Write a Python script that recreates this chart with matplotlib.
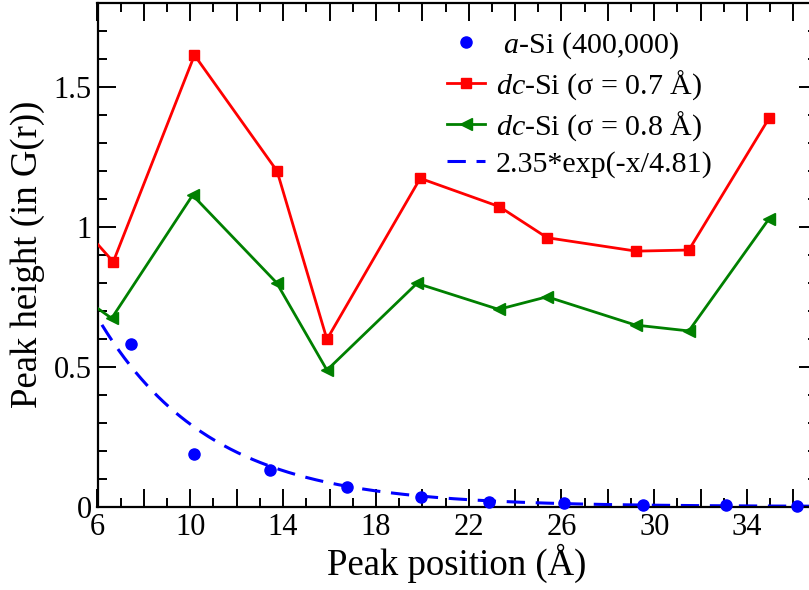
import numpy as np
import matplotlib
matplotlib.use("Agg")
import matplotlib.pyplot as plt
from matplotlib.ticker import MultipleLocator, FuncFormatter

plt.rcParams['font.family'] = ['Liberation Serif', 'DejaVu Serif']
plt.rcParams['mathtext.fontset'] = 'custom'
plt.rcParams['mathtext.rm'] = 'Liberation Serif'
plt.rcParams['mathtext.it'] = 'Liberation Serif:italic'

# a-Si peak heights
asi_x = [7.44, 10.18, 13.44, 16.75, 19.94, 22.86, 26.10, 29.52, 33.07, 36.13]
asi_y = [0.580, 0.186, 0.130, 0.071, 0.033, 0.017, 0.011, 0.005, 0.005, 0.002]

# dc-Si sigma = 0.7
dc07_x = [3.60, 6.68, 10.18, 13.74, 15.89, 19.91, 23.32, 25.38, 29.22, 31.49, 34.94]
dc07_y = [1.160, 0.874, 1.612, 1.198, 0.597, 1.172, 1.071, 0.960, 0.912, 0.916, 1.386]

# dc-Si sigma = 0.8
dc08_x = [3.60, 6.61, 10.10, 13.72, 15.89, 19.77, 23.29, 25.38, 29.19, 31.49, 34.93]
dc08_y = [0.850, 0.672, 1.112, 0.799, 0.487, 0.797, 0.704, 0.749, 0.648, 0.627, 1.026]

# fit parameters
fit_a = 2.35
fit_l = 4.81

labels = [r' $\mathit{a}$-Si (400,000)',
          r'$\mathit{dc}$-Si ($\mathrm{\sigma}$ = 0.7 Å)',
          r'$\mathit{dc}$-Si ($\mathrm{\sigma}$ = 0.8 Å)',
          '2.35*exp(-x/4.81)']

fig = plt.figure(figsize=(8.09, 5.90), dpi=100)
ax = fig.add_axes([97.5/809, 1-506.5/590, (816.7-97.5)/809, 504/590])

fx = np.linspace(5, 37, 400)
fy = fit_a*np.exp(-fx/fit_l)

ax.plot(asi_x, asi_y, 'o', color='#0000ff', ms=8, ls='none', label=labels[0], clip_on=False, zorder=4)
ax.plot(dc07_x, dc07_y, '-s', color='#ff0000', lw=2.0, ms=7, label=labels[1], zorder=3)
ax.plot(dc08_x, dc08_y, '-<', color='#008000', lw=2.0, ms=8, label=labels[2], zorder=3)
ax.plot(fx, fy, '--', color='#0000ff', lw=2.2, dashes=(6, 3.5), label=labels[3], zorder=2)

ax.set_xlim(6, 37)
ax.set_ylim(0, 1.8)

ax.xaxis.set_major_locator(MultipleLocator(2))
ax.xaxis.set_minor_locator(MultipleLocator(1))
ax.yaxis.set_major_locator(MultipleLocator(0.5))
ax.yaxis.set_minor_locator(MultipleLocator(0.1))

def xfmt(v, pos):
    iv = int(round(v))
    if (iv - 6) % 4 == 0:
        return str(iv)
    return ''

def yfmt(v, pos):
    return ('%g' % round(v, 2))

ax.xaxis.set_major_formatter(FuncFormatter(xfmt))
ax.yaxis.set_major_formatter(FuncFormatter(yfmt))

ax.tick_params(which='both', direction='in', top=True, right=True, width=1.4, labelsize=22, color='black')
ax.tick_params(which='major', length=13)
ax.tick_params(which='minor', length=6.5)
ax.tick_params(axis='x', pad=5)
ax.tick_params(axis='y', pad=4)

for s in ax.spines.values():
    s.set_linewidth(1.6)

ax.set_xlabel('Peak position (Å)', fontsize=26.5, labelpad=1)
ax.set_ylabel('Peak height (in G(r))', fontsize=26.5, labelpad=6)

leg = ax.legend(loc='upper left', bbox_to_anchor=(0.461, 0.981), frameon=False, fontsize=21.6,
                handlelength=1.27, handletextpad=0.35, labelspacing=0.25, borderaxespad=0.2)

fig.savefig('out.png', dpi=100)
